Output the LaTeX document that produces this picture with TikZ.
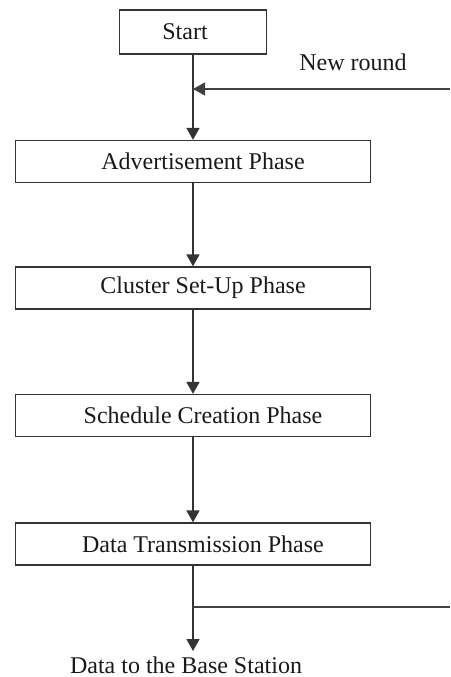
\documentclass[tikz,border=0pt]{standalone}
\usepackage{fontspec}
\setmainfont{Liberation Serif}
\usetikzlibrary{arrows.meta}
\begin{document}
\begin{tikzpicture}[x=1pt,y=-1pt,
  every node/.style={font=\fontsize{24}{28}\selectfont, text=black!90},
  flow/.style={draw=black!80, line width=1.7pt},
  thin flow/.style={draw=black!75, line width=1.3pt},
  tip/.style={-{Triangle[width=13pt,length=12pt]}},
  phase/.style={draw=black!80, line width=1.3pt, minimum width=355pt, minimum height=42pt, inner sep=0pt},
  startbox/.style={draw=black!80, line width=1.3pt, minimum width=147pt, minimum height=44pt, inner sep=0pt}]
  \useasboundingbox (0,0) rectangle (450,677);

  % process boxes
  \node[startbox] (start) at (193,32) {\hspace*{-16pt}Start};
  \node[phase] (adv)   at (193,161.5) {\hspace*{20pt}Advertisement Phase};
  \node[phase] (clus)  at (193,288)   {\hspace*{20pt}Cluster Set-Up Phase};
  \node[phase] (sched) at (193,415.5) {\hspace*{20pt}Schedule Creation Phase};
  \node[phase] (dtp)   at (193,544)   {\hspace*{20pt}Data Transmission Phase};

  % labels
  \node (nrlabel) at (353,62) {New round};
  \node[inner sep=0pt, anchor=base] (bs) at (186,673) {Data to the Base Station};
  \coordinate (bstop) at (193,651);

  % loop-back coordinates
  \coordinate (nrin) at (450,89);
  \coordinate (j1) at (193,89);
  \coordinate (j2) at (193,607);
  \coordinate (nrout) at (450,607);

  % main flow
  \draw[flow, tip] (start.south) -- (adv.north);
  \draw[flow, tip] (adv.south) -- (clus.north);
  \draw[flow, tip] (clus.south) -- (sched.north);
  \draw[flow, tip] (sched.south) -- (dtp.north);
  \draw[flow, tip] (dtp.south) -- (bstop);

  % next round feedback
  \draw[thin flow, tip] (nrin) -- (j1);
  \draw[thin flow] (j2) -- (nrout);
\end{tikzpicture}
\end{document}
